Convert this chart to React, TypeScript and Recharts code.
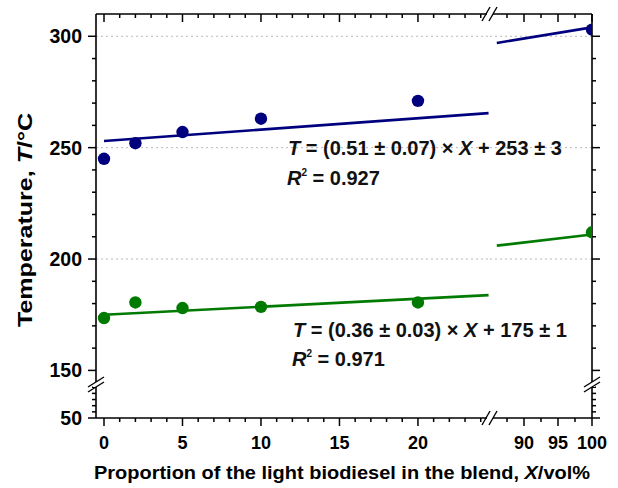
import React from 'react';
import { ComposedChart, Scatter, XAxis, YAxis, ReferenceLine } from 'recharts';

// ---------------- data ----------------
const blendProportions = [0, 2, 5, 10, 20];
const pureProportions = [100];

const upperSeriesBlend = [245, 252, 257, 263, 271];
const upperSeriesPure = [303];
const lowerSeriesBlend = [173.5, 180.5, 178, 178.5, 180.5];
const lowerSeriesPure = [212];

// fitted lines (end points)
const upperFitLeftX = [0, 24.5];
const upperFitLeftY = [253, 265.5];
const upperFitRightX = [86, 100];
const upperFitRightY = [297, 304];
const lowerFitLeftX = [0, 24.5];
const lowerFitLeftY = [175, 183.8];
const lowerFitRightX = [86, 100];
const lowerFitRightY = [206, 211];

// axes
const leftXDomain = [-0.51, 24.59];
const rightXDomain = [85, 100];
const leftXTicks = [0, 1, 2, 3, 4, 5, 6, 7, 8, 9, 10, 11, 12, 13, 14, 15, 16, 17, 18, 19, 20, 21, 22, 23, 24];
const leftXMajor = [0, 5, 10, 15, 20];
const rightXTicks = [87.5, 90, 92.5, 95, 97.5, 100];
const rightXMajor = [90, 95, 100];
const upperYDomain = [143, 310];
const upperYTicks = [150, 160, 170, 180, 190, 200, 210, 220, 230, 240, 250, 260, 270, 280, 290, 300];
const upperYMajor = [150, 200, 250, 300];
const lowerYDomain = [50, 102];
const lowerYTicks = [50, 60, 70, 80, 90, 100];
const lowerYMajor = [50];
const gridValues = [200, 250, 300];

// ---------------- style ----------------
const FONT = '"Liberation Sans", Arial, sans-serif';
const NAVY = '#00007f';
const GREEN = '#007a00';
const AXIS = '#000';
const TS = 8; // major tick length
const TM_LEFT = 6;
const TM_BOTTOM = 10;
const TM_HIDDEN = 2;
const TICK_FS_Y = 19.5;
const TICK_FS_X = 18;

const pts = (xs: number[], ys: number[]) => xs.map((x, i) => ({ x, y: ys[i] }));

const upperBlendData = pts(blendProportions, upperSeriesBlend);
const upperPureData = pts(pureProportions, upperSeriesPure);
const lowerBlendData = pts(blendProportions, lowerSeriesBlend);
const lowerPureData = pts(pureProportions, lowerSeriesPure);

const dot = (color: string) => (p: any) => <circle cx={p.cx} cy={p.cy} r={6.2} fill={color} />;
const noDot = () => <g />;

type Orient = 'left' | 'right' | 'top' | 'bottom';
const makeTick = (orient: Orient, majors: number[], label: boolean, tm: number) => (props: any) => {
  const x = Number(props.x);
  const y = Number(props.y);
  const v = props.payload.value;
  const major = majors.includes(v);
  const len = major ? TS : 4;
  let x1 = x, x2 = x, y1 = y, y2 = y;
  let text = null;
  if (orient === 'left') {
    x2 = x + TS + tm;
    x1 = x2 - len;
    if (label && major)
      text = (
        <text x={x} y={y} dy="0.36em" textAnchor="end" fontSize={TICK_FS_Y} fontWeight="bold" fontFamily={FONT} fill="#000">
          {v}
        </text>
      );
  } else if (orient === 'right') {
    x1 = x - TS - tm;
    x2 = x1 + len;
  } else if (orient === 'top') {
    y1 = y + TS + tm;
    y2 = y1 + len;
  } else {
    y1 = y - TS - tm;
    y2 = y1 + len;
    if (label && major)
      text = (
        <text x={x} y={y} dy="0.71em" textAnchor="middle" fontSize={TICK_FS_X} fontWeight="bold" fontFamily={FONT} fill="#000">
          {v}
        </text>
      );
  }
  return (
    <g>
      <path d={`M${x1},${y1}L${x2},${y2}`} stroke={AXIS} strokeWidth={1.5} fill="none" />
      {text}
    </g>
  );
};

const axisLine = { stroke: AXIS, strokeWidth: 1.6 };

export default function App() {
  return (
    <div style={{ position: 'absolute', left: 0, top: 0, width: 618, height: 488, background: '#fff', fontFamily: FONT }}>
      {/* upper-left */}
      <div style={{ position: 'absolute', left: 0, top: 0 }}>
        <ComposedChart width={490} height={386} margin={{ top: 2, right: 0, left: 26, bottom: 0 }}>
          <XAxis type="number" dataKey="x" domain={leftXDomain} ticks={leftXTicks} interval={0} orientation="top" height={12}
            tickSize={TS} tickMargin={TM_HIDDEN} tickLine={false} axisLine={axisLine} tick={makeTick('top', leftXMajor, false, TM_HIDDEN)} />
          <YAxis type="number" dataKey="y" domain={upperYDomain} ticks={upperYTicks} interval={0} width={70}
            tickSize={TS} tickMargin={TM_LEFT} tickLine={false} axisLine={axisLine} tick={makeTick('left', upperYMajor, true, TM_LEFT)} />
          {gridValues.map((g) => (
            <ReferenceLine key={g} y={g} stroke="#b8b8b8" strokeDasharray="2 3" strokeWidth={1} />
          ))}
          <Scatter data={pts(upperFitLeftX, upperFitLeftY)} line={{ stroke: NAVY, strokeWidth: 2.6 }} shape={noDot} isAnimationActive={false} />
          <Scatter data={pts(lowerFitLeftX, lowerFitLeftY)} line={{ stroke: GREEN, strokeWidth: 2.6 }} shape={noDot} isAnimationActive={false} />
          <Scatter data={upperBlendData} shape={dot(NAVY)} isAnimationActive={false} />
          <Scatter data={lowerBlendData} shape={dot(GREEN)} isAnimationActive={false} />
        </ComposedChart>
      </div>
      {/* upper-right */}
      <div style={{ position: 'absolute', left: 490, top: 0 }}>
        <ComposedChart width={128} height={386} margin={{ top: 2, right: 6, left: 0, bottom: 0 }}>
          <XAxis type="number" dataKey="x" domain={rightXDomain} ticks={rightXTicks} interval={0} orientation="top" height={12}
            tickSize={TS} tickMargin={TM_HIDDEN} tickLine={false} axisLine={axisLine} tick={makeTick('top', rightXMajor, false, TM_HIDDEN)} allowDataOverflow />
          <YAxis type="number" dataKey="y" domain={upperYDomain} ticks={upperYTicks} interval={0} width={20} orientation="right"
            tickSize={TS} tickMargin={TM_HIDDEN} tickLine={false} axisLine={axisLine} tick={makeTick('right', upperYMajor, false, TM_HIDDEN)} />
          {gridValues.map((g) => (
            <ReferenceLine key={g} y={g} stroke="#b8b8b8" strokeDasharray="2 3" strokeWidth={1} />
          ))}
          <Scatter data={pts(upperFitRightX, upperFitRightY)} line={{ stroke: NAVY, strokeWidth: 2.6 }} shape={noDot} isAnimationActive={false} />
          <Scatter data={pts(lowerFitRightX, lowerFitRightY)} line={{ stroke: GREEN, strokeWidth: 2.6 }} shape={noDot} isAnimationActive={false} />
          <Scatter data={upperPureData} shape={dot(NAVY)} isAnimationActive={false} />
          <Scatter data={lowerPureData} shape={dot(GREEN)} isAnimationActive={false} />
        </ComposedChart>
      </div>
      {/* lower-left */}
      <div style={{ position: 'absolute', left: 0, top: 386 }}>
        <ComposedChart width={490} height={102} margin={{ top: 0, right: 0, left: 26, bottom: 30 }}>
          <XAxis type="number" dataKey="x" domain={leftXDomain} ticks={leftXTicks} interval={0} orientation="bottom" height={40}
            tickSize={TS} tickMargin={TM_BOTTOM} tickLine={false} axisLine={axisLine} tick={makeTick('bottom', leftXMajor, true, TM_BOTTOM)} allowDataOverflow />
          <YAxis type="number" dataKey="y" domain={lowerYDomain} ticks={lowerYTicks} interval={0} width={70}
            tickSize={TS} tickMargin={TM_LEFT} tickLine={false} axisLine={axisLine} tick={makeTick('left', lowerYMajor, true, TM_LEFT)} allowDataOverflow />
          <Scatter data={[]} isAnimationActive={false} />
        </ComposedChart>
      </div>
      {/* lower-right */}
      <div style={{ position: 'absolute', left: 490, top: 386 }}>
        <ComposedChart width={128} height={102} margin={{ top: 0, right: 6, left: 0, bottom: 30 }}>
          <XAxis type="number" dataKey="x" domain={rightXDomain} ticks={rightXTicks} interval={0} orientation="bottom" height={40}
            tickSize={TS} tickMargin={TM_BOTTOM} tickLine={false} axisLine={axisLine} tick={makeTick('bottom', rightXMajor, true, TM_BOTTOM)} allowDataOverflow />
          <YAxis type="number" dataKey="y" domain={lowerYDomain} ticks={lowerYTicks} interval={0} width={20} orientation="right"
            tickSize={TS} tickMargin={TM_HIDDEN} tickLine={false} axisLine={axisLine} tick={makeTick('right', lowerYMajor, false, TM_HIDDEN)} allowDataOverflow />
          <Scatter data={[]} isAnimationActive={false} />
        </ComposedChart>
      </div>
      {/* overlay: breaks, annotations, titles */}
      <svg width={618} height={488} style={{ position: 'absolute', left: 0, top: 0, pointerEvents: 'none' }} fontFamily={FONT}>
        {/* x-axis breaks */}
        <rect x={487} y={11} width={6} height={6} fill="#fff" />
        <line x1={482} y1={21} x2={490} y2={7} stroke={AXIS} strokeWidth={1.4} />
        <line x1={489} y1={21} x2={497} y2={7} stroke={AXIS} strokeWidth={1.4} />
        <rect x={487} y={415} width={6} height={6} fill="#fff" />
        <line x1={482} y1={425} x2={490} y2={411} stroke={AXIS} strokeWidth={1.4} />
        <line x1={489} y1={425} x2={497} y2={411} stroke={AXIS} strokeWidth={1.4} />
        {/* y-axis breaks */}
        <rect x={93} y={382} width={6} height={5} fill="#fff" />
        <line x1={88} y1={392} x2={104} y2={382} stroke={AXIS} strokeWidth={1.4} />
        <line x1={88} y1={387} x2={104} y2={377} stroke={AXIS} strokeWidth={1.4} />
        <rect x={589} y={382} width={6} height={5} fill="#fff" />
        <line x1={584} y1={392} x2={600} y2={382} stroke={AXIS} strokeWidth={1.4} />
        <line x1={584} y1={387} x2={600} y2={377} stroke={AXIS} strokeWidth={1.4} />

        {/* equations */}
        <g fontWeight="bold" fontSize={20} fill="#111">
          <text x={288} y={155}>
            <tspan fontStyle="italic">T</tspan>
            {' = (0.51 ± 0.07) × '}
            <tspan fontStyle="italic">X</tspan>
            {' + 253 ± 3'}
          </text>
          <text x={287} y={185}>
            <tspan fontStyle="italic">R</tspan>
            <tspan fontSize={10} dy={-9}>2</tspan>
            <tspan dy={9}>{' = 0.927'}</tspan>
          </text>
          <text x={293} y={337}>
            <tspan fontStyle="italic">T</tspan>
            {' = (0.36 ± 0.03) × '}
            <tspan fontStyle="italic">X</tspan>
            {' + 175 ± 1'}
          </text>
          <text x={292} y={366}>
            <tspan fontStyle="italic">R</tspan>
            <tspan fontSize={10} dy={-9}>2</tspan>
            <tspan dy={9}>{' = 0.971'}</tspan>
          </text>
        </g>

        {/* axis titles */}
        <text x={342} y={479} textAnchor="middle" fontSize={18} fontWeight="bold" fill="#000" textLength={496} lengthAdjust="spacingAndGlyphs">
          {'Proportion of the light biodiesel in the blend, '}
          <tspan fontStyle="italic">X</tspan>
          {'/vol%'}
        </text>
        <text transform="translate(32, 220) rotate(-90)" textAnchor="middle" fontSize={21} fontWeight="bold" fill="#000" textLength={214} lengthAdjust="spacingAndGlyphs">
          {'Temperature, '}
          <tspan fontStyle="italic">T</tspan>
          {'/°C'}
        </text>
      </svg>
    </div>
  );
}
